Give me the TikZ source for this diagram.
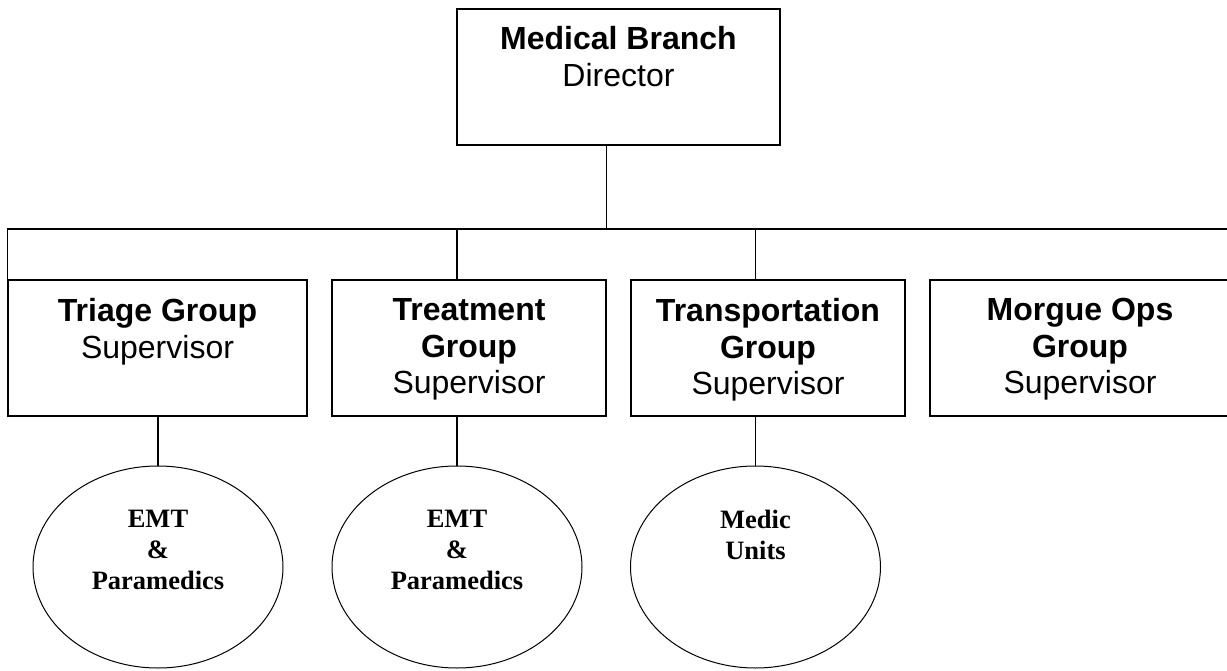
\documentclass[tikz,border=0pt]{standalone}
\usepackage{fontspec}
\setmainfont{Liberation Sans}
\newfontfamily\crewfont{Liberation Serif}
\usetikzlibrary{positioning,shapes.geometric}
\tikzset{unitbox/.style={draw,line width=1.4pt,inner sep=0pt,minimum height=136pt},}
\tikzset{boxtext/.style={align=center,inner sep=0pt,font=\fontsize{32}{36.5}\selectfont},}
\tikzset{crew/.style={draw,ellipse,line width=1pt,inner sep=0pt,minimum width=250pt,minimum height=202pt},}
\tikzset{crewtext/.style={align=center,inner sep=0pt,font=\crewfont\bfseries\fontsize{26.5}{31}\selectfont},}
\tikzset{link/.style={line width=1.1pt},}

\begin{document}
\begin{tikzpicture}[x=1pt,y=-1pt]
\useasboundingbox (0,0) rectangle (1227,671);
% boxes
\node[unitbox,minimum width=323pt] (dir) at (618.5,77) {};
\node[unitbox,minimum width=299pt] (triage) at (157.5,348) {};
\node[unitbox,minimum width=274pt] (treat) at (469,348) {};
\node[unitbox,minimum width=274pt] (transp) at (768,348) {};
\node[unitbox,minimum width=300pt] (morgue) at (1080,348) {};
\node[boxtext,below=18pt of dir.north] (dirtxt) {\textbf{Medical Branch}\\Director};
\node[boxtext,below=19pt of triage.north] (triagetxt) {\textbf{Triage Group}\\Supervisor};
\node[boxtext,below=19pt of treat.north] (treattxt) {\textbf{Treatment}\\\textbf{Group}\\Supervisor};
\node[boxtext,below=19pt of transp.north] (transptxt) {\textbf{Transportation}\\\textbf{Group}\\Supervisor};
\node[boxtext,below=19pt of morgue.north] (morguetxt) {\textbf{Morgue Ops}\\\textbf{Group}\\Supervisor};
% crews
\node[crew] (emtA) at (158,567) {};
\node[crew] (emtB) at (457,567) {};
\node[crew] (medic) at (755.5,567) {};
\node[crewtext,below=44pt of emtA.north] (emtAtxt) {EMT\\\&\\Paramedics};
\node[crewtext,below=44pt of emtB.north] (emtBtxt) {EMT\\\&\\Paramedics};
\node[crewtext,below=44pt of medic.north] (medictxt) {Medic\\Units};
% lines
\coordinate (bus) at (0,229);
\draw[link] (triage.north west) |- (bus -| morgue.north east) -- (morgue.north east);
\draw[link] (dir.south -| treat.north east) -- (bus -| treat.north east);
\draw[link] (bus -| emtB.north) -- (treat.north -| emtB.north);
\draw[link] (bus -| medic.north) -- (transp.north -| medic.north);
\draw[link] (triage.south -| emtA.north) -- (emtA.north);
\draw[link] (treat.south -| emtB.north) -- (emtB.north);
\draw[link] (transp.south -| medic.north) -- (medic.north);
\end{tikzpicture}
\end{document}
